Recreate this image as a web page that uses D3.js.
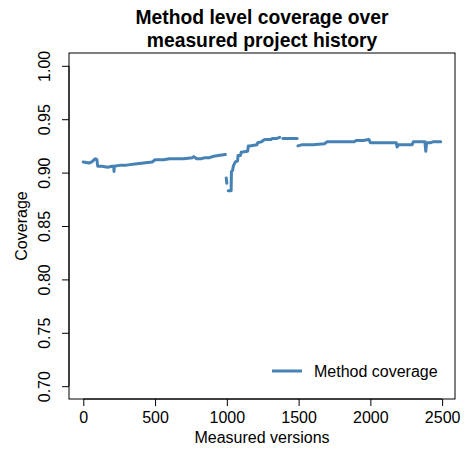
<!DOCTYPE html>
<html><head><meta charset="utf-8">
<script src="https://cdn.jsdelivr.net/npm/d3@7"></script>
<style>body{margin:0;background:#fff}text{font-family:"Liberation Sans",Arial,Helvetica,sans-serif}</style>
</head><body>
<svg id="chart" width="469" height="454"></svg>
<script>
// Data (null = missing value -> gap in line)
const versions = [0,40,60,75,85,95,100,130,170,200,212,214,216,260,300,360,420,480,500,560,600,640,700,760,770,790,820,850,880,900,940,990,
  null,
  996,1000,
  null,
  1010,1030,1032,1040,1045,1055,1060,1075,1078,1095,1100,1145,1150,1160,1210,1215,1245,1250,1265,1310,1315,1350,1368,
  null,
  1390,1490,
  null,
  1495,1520,1600,1680,1700,1800,1890,1900,1950,1990,2000,2010,2100,2180,2186,2195,2290,2300,2380,2386,2392,2420,2440,2490];
const coverage = [0.910,0.909,0.910,0.912,0.913,0.912,0.906,0.906,0.905,0.906,0.906,0.901,0.906,0.907,0.907,0.908,0.909,0.910,0.912,0.912,0.913,0.913,0.913,0.914,0.915,0.913,0.913,0.914,0.914,0.915,0.916,0.917,
  null,
  0.895,0.890,
  null,
  0.883,0.883,0.901,0.902,0.906,0.909,0.910,0.911,0.916,0.916,0.919,0.920,0.925,0.925,0.926,0.928,0.929,0.930,0.931,0.931,0.932,0.932,0.933,
  null,
  0.932,0.932,
  null,
  0.925,0.926,0.926,0.927,0.929,0.929,0.929,0.930,0.930,0.931,0.928,0.928,0.928,0.928,0.924,0.926,0.926,0.929,0.929,0.920,0.928,0.928,0.929,0.929];
const xTicks = [0,500,1000,1500,2000,2500];
const yTicks = [0.70,0.75,0.80,0.85,0.90,0.95,1.00];
const titleLines = ["Method level coverage over","measured project history"];
const xLabel = "Measured versions";
const yLabel = "Coverage";
const legendLabel = "Method coverage";

const pts = versions.map((v,i)=>({v, c: coverage[i]}));

const svg = d3.select("#chart");
const L=69, R=455, T=53, B=399;
const xr = [0, 2490], pad = (xr[1]-xr[0])*0.04;
const x = d3.scaleLinear().domain([xr[0]-pad, xr[1]+pad]).range([L,R]);
const yp = 0.3*0.04;
const y = d3.scaleLinear().domain([0.70-yp, 1.00+yp]).range([B,T]);
const col = "#4682B4";

// line
const line = d3.line().defined(d=>d.v!==null && d.c!==null).x(d=>x(d.v)).y(d=>y(d.c)).curve(d3.curveLinear);
svg.append("path").datum(pts).attr("d",line).attr("fill","none").attr("stroke",col)
  .attr("stroke-width",3).attr("stroke-linecap","round").attr("stroke-linejoin","round");

// box
svg.append("rect").attr("x",L).attr("y",T).attr("width",R-L).attr("height",B-T)
  .attr("fill","none").attr("stroke","#000").attr("stroke-width",1);

// x axis
const xa = svg.append("g").attr("transform",`translate(0,${B})`)
  .call(d3.axisBottom(x).tickValues(xTicks).tickFormat(d3.format("d")).tickSize(7).tickPadding(5));
xa.select(".domain").attr("d",`M${x(xTicks[0])},0H${x(xTicks[xTicks.length-1])}`);
xa.selectAll("text").attr("font-size",16).attr("font-family",'"Liberation Sans",Arial,sans-serif').attr("dy",null).attr("y",24);

// y axis
const ya = svg.append("g").attr("transform",`translate(${L},0)`)
  .call(d3.axisLeft(y).tickValues(yTicks).tickFormat(d3.format(".2f")).tickSize(7));
ya.select(".domain").attr("d",`M0,${y(yTicks[0])}V${y(yTicks[yTicks.length-1])}`);
ya.selectAll("text").attr("font-size",16).attr("font-family",'"Liberation Sans",Arial,sans-serif')
  .attr("x",null).attr("dy",null).attr("text-anchor","middle")
  .attr("transform","translate(-19,0) rotate(-90)").attr("y",0);
svg.selectAll(".tick line").attr("stroke","#000");

// labels
svg.append("text").attr("x",(L+R)/2).attr("y",443).attr("text-anchor","middle").attr("font-size",16).text(xLabel);
svg.append("text").attr("transform",`translate(27,${(T+B)/2}) rotate(-90)`).attr("text-anchor","middle").attr("font-size",16).text(yLabel);
titleLines.forEach((t,i)=>svg.append("text").attr("x",(L+R)/2).attr("y",24+i*23).attr("text-anchor","middle")
  .attr("font-size",19.3).attr("font-weight","bold").text(t));

// legend
svg.append("line").attr("x1",272).attr("x2",302).attr("y1",371).attr("y2",371).attr("stroke",col).attr("stroke-width",3);
svg.append("text").attr("x",314).attr("y",377).attr("font-size",16).text(legendLabel);
</script>
</body></html>
